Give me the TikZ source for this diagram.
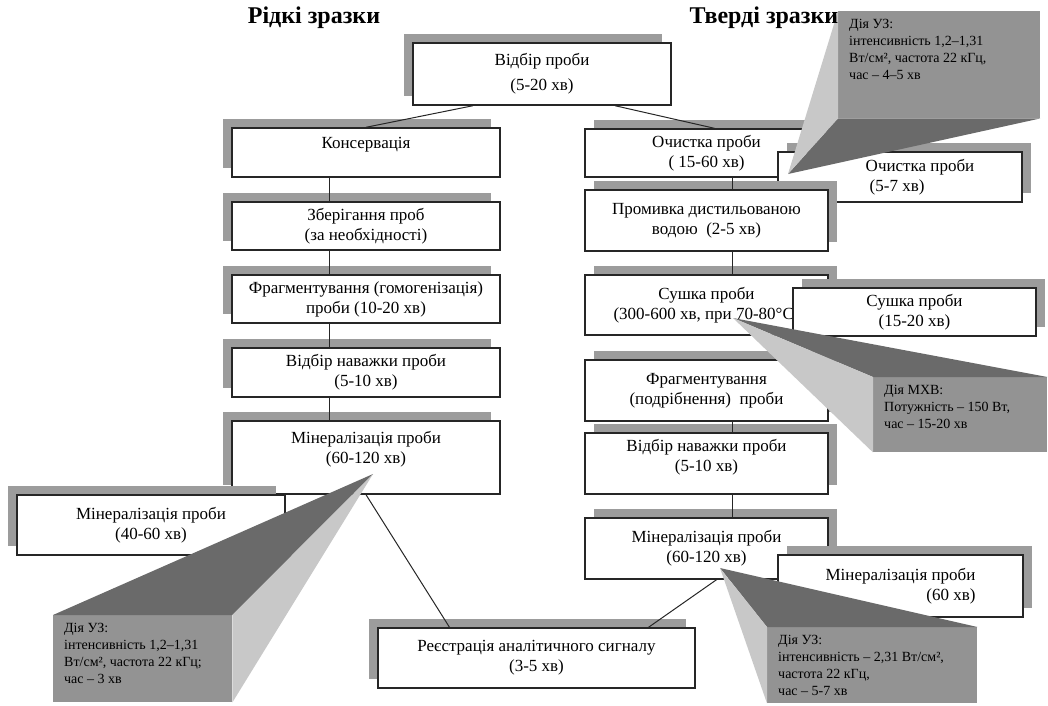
\documentclass[tikz,border=0pt]{standalone}
\usepackage{fontspec}
\setmainfont{Liberation Serif}
\usetikzlibrary{shadows}
\definecolor{clShadow}{HTML}{9C9C9C}
\definecolor{clFront}{HTML}{939393}
\definecolor{clTop}{HTML}{6A6A6A}
\definecolor{clSide}{HTML}{C8C8C8}
\definecolor{clLine}{HTML}{262626}
\newcommand{\uztext}[3]{\parbox[t][#2][t]{#1}{\raggedright #3}}
\tikzset{
  box/.style={rectangle, draw=clLine, line width=1.4pt, fill=white, align=center,
              inner sep=2pt, font=\fontsize{17}{20}\selectfont},
  lbox/.style={box, drop shadow={shadow xshift=-9pt, shadow yshift=9pt, fill=clShadow, opacity=1}},
  rbox/.style={box, drop shadow={shadow xshift=9pt, shadow yshift=9pt, fill=clShadow, opacity=1}},
  front/.style={rectangle, fill=clFront, anchor=north west, inner xsep=11pt, inner ysep=8pt,
                font=\fontsize{14}{17}\selectfont},
  topface/.style={fill=clTop},
  sideface/.style={fill=clSide},
  link/.style={draw=clLine, line width=1pt},
  title/.style={font=\fontsize{24}{28}\selectfont\bfseries},
}
\begin{document}
\begin{tikzpicture}[x=1pt, y=-1pt]
  \useasboundingbox (0,0) rectangle (1048,705);

  % common start
  \node[lbox, minimum width=258, minimum height=62] (vidbir) at (542,74) {Відбір проби\\[5pt](5-20 хв)};

  % liquid samples
  \node[lbox, minimum width=268, minimum height=49] (kons) at (366,152.5) {Консервація\\\mbox{}};
  \node[lbox, minimum width=268, minimum height=48] (zber) at (366,226) {Зберігання проб\\(за необхідності)};
  \node[lbox, minimum width=268, minimum height=48] (fragL) at (366,299) {Фрагментування (гомогенізація)\\проби (10-20 хв)};
  \node[lbox, minimum width=268, minimum height=49] (vidL) at (366,372.5) {Відбір наважки проби\\(5-10 хв)};
  \node[lbox, minimum width=268, minimum height=73] (minL) at (366,457.5) {Мінералізація проби\\(60-120 хв)\\\mbox{}};
  \node[lbox, minimum width=268, minimum height=60] (minLs) at (151,525) {Мінералізація проби\\(40-60 хв)};

  % solid samples
  \node[rbox, minimum width=243, minimum height=48] (ochR) at (706.5,153) {Очистка проби\\( 15-60 хв)};
  \node[rbox, minimum width=244, minimum height=50, align=left] (ochS) at (900,177) {\hspace*{40pt}Очистка проби\\\hspace*{44pt}(5-7 хв)};
  \node[rbox, minimum width=243, minimum height=61] (promR) at (706.5,220.5) {Промивка дистильованою\\водою~~(2-5 хв)};
  \node[rbox, minimum width=243, minimum height=60] (sushR) at (706.5,305) {Сушка проби\\(300-600 хв, при 70-80°C)};
  \node[rbox, minimum width=243, minimum height=48] (sushS) at (914.5,312) {Сушка проби\\(15-20 хв)};
  \node[rbox, minimum width=243, minimum height=61] (fragR) at (706.5,390.5) {Фрагментування\\(подрібнення)~~проби};
  \node[rbox, minimum width=243, minimum height=61] (vidR) at (706.5,463.5) {Відбір наважки проби\\(5-10 хв)\\[-4pt]\mbox{}};
  \node[rbox, minimum width=243, minimum height=61] (minR) at (706.5,548.5) {Мінералізація проби\\(60-120 хв)};
  \node[rbox, minimum width=245, minimum height=62, align=right] (minS) at (900.5,586) {Мінералізація проби\\(60 хв)};

  \node[lbox, minimum width=317, minimum height=60] (reg) at (536.5,658) {Реєстрація аналітичного сигналу\\(3-5 хв)};

  % connectors
  \draw[link] ([xshift=-69pt]vidbir.south) -- (kons.north);
  \draw[link] ([xshift=73pt]vidbir.south) -- ([xshift=8pt]ochR.north);
  \draw[link] ([xshift=-37pt]kons.south) -- ([xshift=-37pt]zber.north);
  \draw[link] ([xshift=-37pt]zber.south) -- ([xshift=-37pt]fragL.north);
  \draw[link] ([xshift=-37pt]fragL.south) -- ([xshift=-37pt]vidL.north);
  \draw[link] ([xshift=-37pt]vidL.south) -- ([xshift=-37pt]minL.north);
  \draw[link] ([xshift=25.5pt]ochR.south) -- ([xshift=25.5pt]promR.north);
  \draw[link] ([xshift=25.5pt]promR.south) -- ([xshift=25.5pt]sushR.north);
  \draw[link] ([xshift=25.5pt]fragR.south) -- ([xshift=25.5pt]vidR.north);
  \draw[link] ([xshift=25.5pt]vidR.south) -- ([xshift=25.5pt]minR.north);
  \draw[link] (minL.south) -- ([xshift=-87pt]reg.north);
  \draw[link] ([xshift=10pt]minR.south) -- ([xshift=112pt]reg.north);

  % callouts
  \coordinate (apA) at (373,474);
  \node[front] (uzA) at (53,615) {\uztext{157pt}{71pt}{Дія УЗ:\\інтенсивність 1,2–1,31\\Вт/см², частота 22 кГц;\\час – 3 хв}};
  \fill[topface] (apA) -- (uzA.north west) -- (uzA.north east) -- cycle;
  \fill[sideface] (apA) -- (uzA.north east) -- (uzA.south east) -- cycle;

  \coordinate (apB) at (788,174);
  \node[front] (uzB) at (838,11) {\uztext{180pt}{91pt}{Дія УЗ:\\інтенсивність 1,2–1,31\\Вт/см², частота 22 кГц,\\час – 4–5 хв}};
  \fill[topface] (apB) -- (uzB.south west) -- (uzB.south east) -- cycle;
  \fill[sideface] (apB) -- (uzB.north west) -- (uzB.south west) -- cycle;

  \coordinate (apC) at (733,318);
  \node[front] (mhv) at (873,377) {\uztext{152pt}{59pt}{Дія МХВ:\\Потужність – 150 Вт,\\час – 15-20 хв}};
  \fill[topface] (apC) -- (mhv.north west) -- (mhv.north east) -- cycle;
  \fill[sideface] (apC) -- (mhv.north west) -- (mhv.south west) -- cycle;

  \coordinate (apD) at (720,568);
  \node[front] (uzD) at (767,627) {\uztext{188pt}{60pt}{Дія УЗ:\\інтенсивність – 2,31 Вт/см²,\\частота 22 кГц,\\час – 5-7 хв}};
  \fill[topface] (apD) -- (uzD.north west) -- (uzD.north east) -- cycle;
  \fill[sideface] (apD) -- (uzD.north west) -- (uzD.south west) -- cycle;

  % headings
  \node[title] (tLiq) at (314,18) {Рідкі зразки};
  \node[title] (tSol) at (764,18) {Тверді зразки};
\end{tikzpicture}
\end{document}
